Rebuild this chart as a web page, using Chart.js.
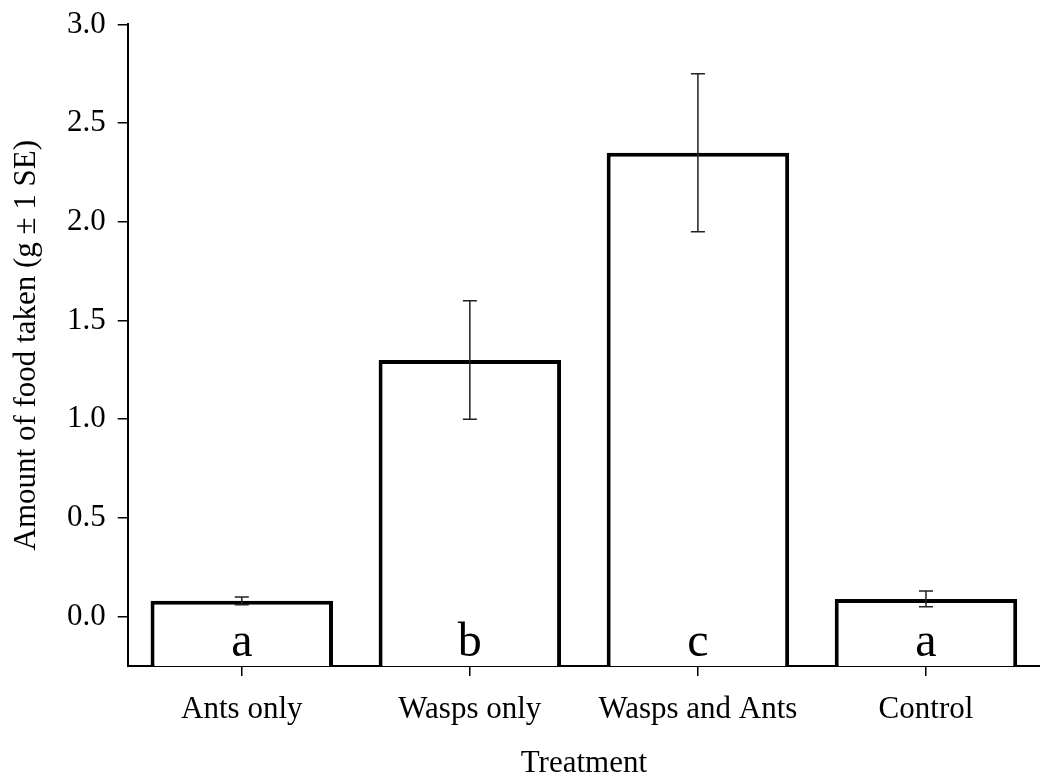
<!DOCTYPE html>
<html>
<head>
<meta charset="utf-8">
<script src="https://cdn.jsdelivr.net/npm/chart.js@4"></script>
<style>
  html, body { margin: 0; padding: 0; background: #fff; }
  #wrap { width: 1040px; height: 773px; }
</style>
</head>
<body>
<div id="wrap"><canvas id="chart" width="1040" height="773"></canvas></div>
<script>
const categories = ['Ants only', 'Wasps only', 'Wasps and Ants', 'Control'];
const means = [0.08, 1.30, 2.35, 0.09];
const errLow = [0.06, 1.00, 1.95, 0.05];
const errHigh = [0.10, 1.60, 2.75, 0.13];
const groupLetters = ['a', 'b', 'c', 'a'];
const yTicks = [0.0, 0.5, 1.0, 1.5, 2.0, 2.5, 3.0];
const yMin = -0.25;
const yMax = 3.0;

const serif = "'Liberation Serif', 'Times New Roman', serif";

// error bars + significance letters on top of the bars
const extras = {
  id: 'extras',
  afterDatasetsDraw(chart) {
    const ctx = chart.ctx;
    const y = chart.scales.y;
    const meta = chart.getDatasetMeta(0);
    ctx.save();
    ctx.strokeStyle = '#222';
    ctx.lineWidth = 1.5;
    meta.data.forEach((bar, i) => {
      const x = bar.x;
      const top = y.getPixelForValue(errHigh[i]);
      const bot = y.getPixelForValue(errLow[i]);
      ctx.beginPath();
      ctx.moveTo(x, top); ctx.lineTo(x, bot);
      ctx.moveTo(x - 7, top); ctx.lineTo(x + 7, top);
      ctx.moveTo(x - 7, bot); ctx.lineTo(x + 7, bot);
      ctx.stroke();
    });
    ctx.fillStyle = '#000';
    ctx.font = '48px ' + serif;
    ctx.textAlign = 'center';
    ctx.textBaseline = 'alphabetic';
    meta.data.forEach((bar, i) => {
      ctx.fillText(groupLetters[i], bar.x, chart.chartArea.bottom - 10);
    });
    ctx.restore();
  }
};

new Chart(document.getElementById('chart'), {
  type: 'bar',
  data: {
    labels: categories,
    datasets: [{
      data: means,
      base: yMin,
      backgroundColor: '#fff',
      borderColor: '#000',
      borderWidth: 4,
      barPercentage: 0.8,
      categoryPercentage: 1.0
    }]
  },
  options: {
    responsive: false,
    animation: false,
    layout: { padding: { left: 9, right: 0, top: 8, bottom: 0 } },
    plugins: {
      legend: { display: false },
      tooltip: { enabled: false }
    },
    scales: {
      x: {
        grid: { display: true, drawOnChartArea: false, offset: false, tickLength: 10, color: '#000', lineWidth: 1.5 },
        border: { display: true, color: '#000', width: 2 },
        ticks: { color: '#000', font: { family: serif, size: 31, lineHeight: 1 }, padding: 18, maxRotation: 0 },
        title: { display: true, text: 'Treatment', color: '#000', font: { family: serif, size: 31, lineHeight: 1 }, padding: { top: 5, bottom: -6 } }
      },
      y: {
        min: yMin,
        max: yMax,
        afterBuildTicks(axis) {
          axis.ticks = yTicks.map(v => ({ value: v }));
        },
        grid: { display: true, drawOnChartArea: false, tickLength: 10, color: '#000', lineWidth: 1.5 },
        border: { display: true, color: '#000', width: 2 },
        ticks: {
          color: '#000',
          font: { family: serif, size: 31, lineHeight: 0.8 },
          padding: 12,
          callback: v => Number(v).toFixed(1)
        },
        title: { display: true, text: 'Amount of food taken (g ± 1 SE)', color: '#000', font: { family: serif, size: 31, lineHeight: 1 }, padding: { top: 2, bottom: 13 } }
      }
    }
  },
  plugins: [extras]
});
</script>
</body>
</html>
